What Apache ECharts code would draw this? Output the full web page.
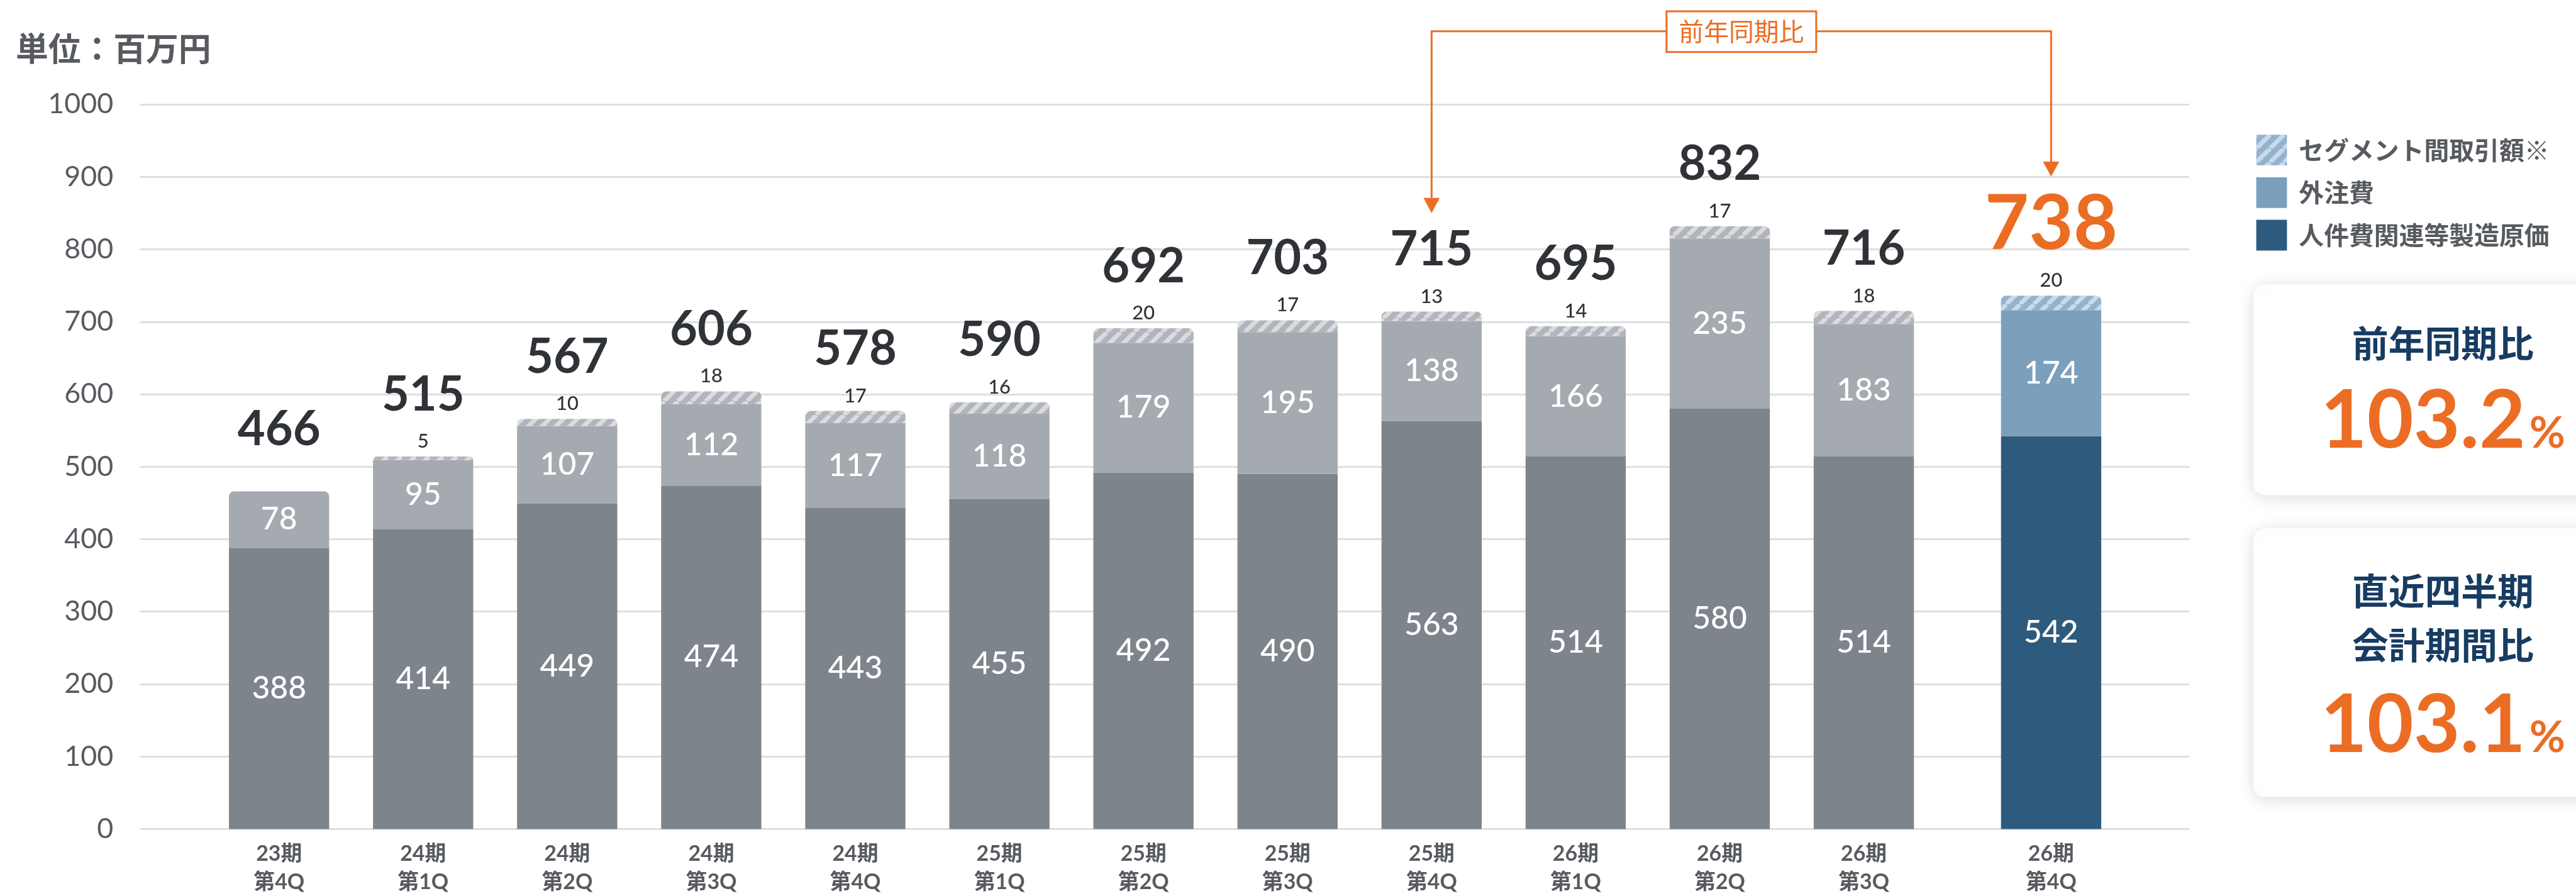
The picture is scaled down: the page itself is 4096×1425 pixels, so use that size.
<!DOCTYPE html>
<html lang="ja">
<head>
<meta charset="utf-8">
<script src="https://cdn.jsdelivr.net/npm/echarts@6/dist/echarts.min.js"></script>
<style>
  html, body { margin: 0; padding: 0; background: #ffffff; }
  #chart { width: 4096px; height: 1425px; }
</style>
</head>
<body>
<div id="chart"></div>
<script>
// ---- data -------------------------------------------------------------
const categories = [
  '23期\n第4Q', '24期\n第1Q', '24期\n第2Q', '24期\n第3Q', '24期\n第4Q',
  '25期\n第1Q', '25期\n第2Q', '25期\n第3Q', '25期\n第4Q',
  '26期\n第1Q', '26期\n第2Q', '26期\n第3Q', '26期\n第4Q'
];
const laborCost    = [388, 414, 449, 474, 443, 455, 492, 490, 563, 514, 580, 514, 542]; // 人件費関連等製造原価
const outsourcing  = [78, 95, 107, 112, 117, 118, 179, 195, 138, 166, 235, 183, 174];    // 外注費
const interSegment = [0, 5, 10, 18, 17, 16, 20, 17, 13, 14, 17, 18, 20];                 // セグメント間取引額※
const totals       = [466, 515, 567, 606, 578, 590, 692, 703, 715, 695, 832, 716, 738];
const yAxisMin = 0, yAxisMax = 1000, yAxisStep = 100;
const yoyRate = '103.2';
const qoqRate = '103.1';
const unitLabel = '単位：百万円';
const compareFrom = 8;   // 25期第4Q, compared with the latest quarter

// ---- layout -----------------------------------------------------------
const K = 0.996;
const px = v => v * K;
const FONT = 'Lato, "Noto Sans CJK JP", sans-serif';
const CJK = '"Noto Sans CJK JP", sans-serif';

const lastIdx = categories.length - 1;
const LAST_GAP = 0.3;  // extra spacing before the latest quarter
const slotPos = categories.map((_, i) => (i === lastIdx ? i + LAST_GAP : i));

const GRAY_DARK = '#7e848c';
const GRAY_MID = '#a5aab1';
const BLUE_DARK = '#2e5b7d';
const BLUE_MID = '#7c9fbb';
const ORANGE = '#eb6d24';
const NAVY = '#173c62';
const TEXT_GRAY = '#575b60';

function hatch(base, stripe) {
  const n = 22;
  const c = document.createElement('canvas');
  c.width = c.height = n;
  const g = c.getContext('2d');
  g.fillStyle = base;
  g.fillRect(0, 0, n, n);
  g.strokeStyle = stripe;
  g.lineWidth = 7;
  g.beginPath();
  for (const k of [-n, 0, n]) { g.moveTo(k, n); g.lineTo(k + n, 0); }
  g.stroke();
  return { image: c, repeat: 'repeat' };
}
const HATCH_GRAY = hatch('#b1b5bb', '#d9dbde');
const HATCH_BLUE = hatch('#93b3cd', '#c9dbea');
const RADIUS = px(8);

const chart = echarts.init(document.getElementById('chart'), null, { renderer: 'canvas' });

function labelFor(v) {
  let best = 0;
  slotPos.forEach((p, i) => { if (Math.abs(p - v) < Math.abs(slotPos[best] - v)) best = i; });
  return categories[best];
}

// each item is [amount, slot position]; the amount comes first so it is the stacked dimension
const item = (v, i) => [v, slotPos[i]];
const barW = px(160);
const insideLabel = {
  show: true, position: 'inside', color: '#ffffff',
  fontSize: px(50), fontFamily: FONT, fontWeight: 500,
  formatter: p => p.value[0]
};
const barBase = { type: 'bar', stack: 'cost', barWidth: barW, encode: { x: 1, y: 0 } };

chart.setOption({
  animation: false,
  backgroundColor: '#ffffff',
  grid: { left: px(223), top: px(166.7), width: px(3272), height: px(1161), containLabel: false },
  xAxis: {
    type: 'value',
    min: -(445.5 - 223) / 230,
    max: (3495 - 445.5) / 230,
    axisLine: { show: false },
    axisTick: { show: false },
    splitLine: { show: false },
    axisLabel: {
      customValues: slotPos,
      formatter: v => labelFor(v),
      fontSize: px(34), lineHeight: px(45), fontWeight: 'bold',
      color: TEXT_GRAY, fontFamily: FONT, margin: px(17)
    }
  },
  yAxis: {
    type: 'value', min: yAxisMin, max: yAxisMax, interval: yAxisStep,
    axisLine: { show: false },
    axisTick: { show: false },
    axisLabel: { fontSize: px(45), color: TEXT_GRAY, fontFamily: FONT, margin: px(42), formatter: v => String(v) },
    splitLine: { lineStyle: { color: '#dedfe0', width: px(3) } }
  },
  legend: {
    orient: 'vertical',
    left: px(3597), top: px(210),
    itemWidth: px(49), itemHeight: px(49), itemGap: px(19),
    icon: 'rect',
    selectedMode: false,
    data: ['セグメント間取引額※', '外注費', '人件費関連等製造原価'],
    textStyle: { fontSize: px(40), color: TEXT_GRAY, fontFamily: CJK, fontWeight: 'bold', padding: [0, 0, 0, px(14)] }
  },
  series: [
    Object.assign({}, barBase, {
      name: '人件費関連等製造原価',
      itemStyle: { color: BLUE_DARK },
      label: insideLabel,
      data: laborCost.map((v, i) => ({
        value: item(v, i),
        itemStyle: { color: i === lastIdx ? BLUE_DARK : GRAY_DARK }
      }))
    }),
    Object.assign({}, barBase, {
      name: '外注費',
      itemStyle: { color: BLUE_MID },
      label: insideLabel,
      data: outsourcing.map((v, i) => ({
        value: item(v, i),
        itemStyle: {
          color: i === lastIdx ? BLUE_MID : GRAY_MID,
          borderRadius: interSegment[i] > 0 ? 0 : [RADIUS, RADIUS, 0, 0]
        }
      }))
    }),
    Object.assign({}, barBase, {
      name: 'セグメント間取引額※',
      itemStyle: { color: HATCH_BLUE, borderRadius: [RADIUS, RADIUS, 0, 0] },
      label: {
        show: true, position: 'top', distance: px(6),
        formatter: p => {
          const i = p.dataIndex;
          const seg = interSegment[i] > 0 ? interSegment[i] : ' ';
          return '{' + (i === lastIdx ? 'totalHi' : 'total') + '|' + totals[i] + '}\n{seg|' + seg + '}';
        },
        rich: {
          total: { fontSize: px(76), fontWeight: 'bold', color: '#2f3338', lineHeight: px(112), fontFamily: FONT, align: 'center' },
          totalHi: { fontSize: px(122), fontWeight: 'bold', color: ORANGE, lineHeight: px(143), fontFamily: FONT, align: 'center' },
          seg: { fontSize: px(31), fontWeight: 500, color: '#333333', lineHeight: px(36), fontFamily: FONT, align: 'center' }
        }
      },
      data: interSegment.map((v, i) => ({
        value: item(v, i),
        itemStyle: { color: i === lastIdx ? HATCH_BLUE : HATCH_GRAY }
      }))
    })
  ]
});

// ---- annotations, unit label and ratio cards ----------------------------
const measure = (() => {
  const g = document.createElement('canvas').getContext('2d');
  return (text, font) => { g.font = font; return g.measureText(text).width; };
})();

function ratioTexts(value, cy, idPrefix) {
  const numSize = px(128), pctSize = px(70);
  const numFont = 'bold ' + numSize + 'px Lato';
  const pctFont = 'bold ' + pctSize + 'px Lato';
  const wNum = measure(value, numFont);
  const wPct = measure('%', pctFont);
  const gap = px(6);
  const left = px(3900) - (wNum + gap + wPct) / 2;
  return [
    { type: 'text', id: idPrefix + 'n', z: 12, style: {
      text: value, x: left, y: cy, align: 'left', verticalAlign: 'middle',
      fill: ORANGE, fontSize: numSize, fontWeight: 'bold', fontFamily: 'Lato' } },
    { type: 'text', id: idPrefix + 'p', z: 12, style: {
      text: '%', x: left + wNum + gap, y: cy + 0.31 * (numSize - pctSize), align: 'left', verticalAlign: 'middle',
      fill: ORANGE, fontSize: pctSize, fontWeight: 'bold', fontFamily: 'Lato' } }
  ];
}

const xFrom = chart.convertToPixel({ xAxisIndex: 0 }, slotPos[compareFrom]);
const xTo = chart.convertToPixel({ xAxisIndex: 0 }, slotPos[lastIdx]);
const lineY = px(50);
const tipFrom = px(340), tipTo = px(282);
const aw = px(26), ah = px(24);
const boxW = px(239), boxH = px(65);
const midX = (xFrom + xTo) / 2;

const cardStyle = {
  fill: '#ffffff', stroke: '#efefef', lineWidth: 1,
  shadowBlur: px(26), shadowColor: 'rgba(0,0,0,0.13)', shadowOffsetY: px(4)
};

chart.setOption({
  graphic: [
    { type: 'text', id: 'unit', style: {
      text: unitLabel, x: px(25), y: px(78), verticalAlign: 'middle',
      fill: TEXT_GRAY, fontSize: px(52), fontWeight: 'bold', fontFamily: CJK } },

    { type: 'polyline', id: 'bracket', z: 5, shape: {
      points: [[xFrom, tipFrom - ah], [xFrom, lineY], [xTo, lineY], [xTo, tipTo - ah]] },
      style: { stroke: ORANGE, lineWidth: px(3), fill: null } },
    { type: 'polygon', id: 'arrowFrom', z: 5, shape: {
      points: [[xFrom - aw / 2, tipFrom - ah], [xFrom + aw / 2, tipFrom - ah], [xFrom, tipFrom]] },
      style: { fill: ORANGE } },
    { type: 'polygon', id: 'arrowTo', z: 5, shape: {
      points: [[xTo - aw / 2, tipTo - ah], [xTo + aw / 2, tipTo - ah], [xTo, tipTo]] },
      style: { fill: ORANGE } },
    { type: 'rect', id: 'bracketBox', z: 6, shape: {
      x: midX - boxW / 2, y: px(18), width: boxW, height: boxH },
      style: { fill: '#ffffff', stroke: ORANGE, lineWidth: px(3) } },
    { type: 'text', id: 'bracketText', z: 7, style: {
      text: '前年同期比', x: midX, y: px(18) + boxH / 2, align: 'center', verticalAlign: 'middle',
      fill: ORANGE, fontSize: px(40), fontFamily: CJK } },

    { type: 'rect', id: 'card1', z: 10, shape: { x: px(3597), y: px(453), width: px(640), height: px(338), r: px(18) },
      style: cardStyle },
    { type: 'text', id: 'card1Title', z: 12, style: {
      text: '前年同期比', x: px(3900), y: px(548), align: 'center', verticalAlign: 'middle',
      fill: NAVY, fontSize: px(58), fontWeight: 'bold', fontFamily: CJK } },
    ...ratioTexts(yoyRate, px(674), 'r1'),

    { type: 'rect', id: 'card2', z: 10, shape: { x: px(3597), y: px(843), width: px(640), height: px(430), r: px(18) },
      style: cardStyle },
    { type: 'text', id: 'card2Title', z: 12, style: {
      text: '直近四半期\n会計期間比', x: px(3900), y: px(987), align: 'center', verticalAlign: 'middle',
      lineHeight: px(86), fill: NAVY, fontSize: px(58), fontWeight: 'bold', fontFamily: CJK } },
    ...ratioTexts(qoqRate, px(1160), 'r2')
  ]
});
</script>
</body>
</html>
